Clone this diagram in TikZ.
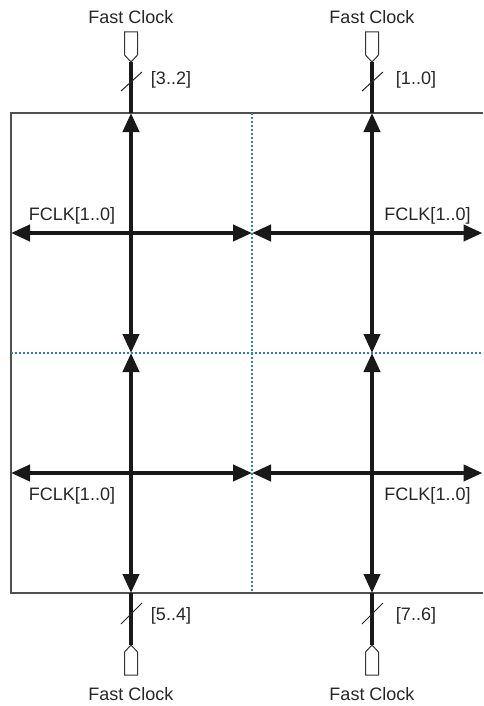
\documentclass[tikz,border=0pt]{standalone}
\usepackage{fontspec}
\setmainfont{Liberation Sans}
\usetikzlibrary{arrows.meta}
\definecolor{boxgray}{HTML}{505050}
\definecolor{dotblue}{HTML}{2F80B8}
\begin{document}
\begin{tikzpicture}[x=1pt,y=-1pt,
  lbl/.style={font=\fontsize{18}{20}\selectfont, text=black!85, inner sep=0pt, anchor=base},
  wire/.style={line width=4pt, black!90},
  biarrow/.style={wire, {Triangle[length=19pt,width=16pt]}-{Triangle[length=19pt,width=16pt]}},
  pinshape/.style={draw=black!80, line width=1pt, fill=white, line join=miter},
  slashmark/.style={line width=1pt, black!85},
  border/.style={line width=1.5pt, boxgray},
  gridline/.style={dotblue, line width=1.2pt, dash pattern=on 2pt off 2pt}]
\useasboundingbox (0,0) rectangle (483,706);

% border and quadrant grid
\draw[border] (483,113) -- (11,113) -- (11,593) -- (483,593);
\draw[gridline] (252,113) -- (252,593);
\draw[gridline] (11,353) -- (483,353);

% coordinates
\foreach \n/\x in {L/131, R/372} {
  \coordinate (top\n) at (\x,113);
  \coordinate (mid\n) at (\x,353);
  \coordinate (bot\n) at (\x,593);
  \coordinate (pinT\n) at (\x,62);
  \coordinate (pinB\n) at (\x,645);
}
\foreach \n/\y in {A/233, B/473} {
  \coordinate (west\n) at (11,\y);
  \coordinate (cen\n) at (252,\y);
  \coordinate (east\n) at (482.5,\y);
}

% pins, wires, buses
\foreach \n/\x in {L/131, R/372} {
  \draw[pinshape] (\x-6.5,32) -- (\x+6.5,32) -- (\x+6.5,55) -- (pinT\n) -- (\x-6.5,55) -- cycle;
  \draw[pinshape] (\x-6.5,675) -- (\x+6.5,675) -- (\x+6.5,652) -- (pinB\n) -- (\x-6.5,652) -- cycle;
  \draw[wire] (pinT\n) -- (top\n);
  \draw[wire] (bot\n) -- (pinB\n);
  \draw[biarrow] (top\n) -- (mid\n);
  \draw[biarrow] (mid\n) -- (bot\n);
  \draw[slashmark] (\x-10,91) -- (\x+11,72);
  \draw[slashmark] (\x-10,624) -- (\x+11,603);
}
\foreach \n in {A, B} {
  \draw[biarrow] (west\n) -- (cen\n);
  \draw[biarrow] (cen\n) -- (east\n);
}

% labels
\node[lbl] (fcTL) at (131,24) {Fast Clock};
\node[lbl] (fcTR) at (372,24) {Fast Clock};
\node[lbl] (fcBL) at (131,700) {Fast Clock};
\node[lbl] (fcBR) at (372,700) {Fast Clock};
\node[lbl] (bTL) at (171,85) {[3..2]};
\node[lbl] (bTR) at (416,85) {[1..0]};
\node[lbl] (bBL) at (171,620) {[5..4]};
\node[lbl] (bBR) at (416,620) {[7..6]};
\node[lbl] (fTL) at (72,220) {FCLK[1..0]};
\node[lbl] (fTR) at (427.5,220) {FCLK[1..0]};
\node[lbl] (fBL) at (72,500) {FCLK[1..0]};
\node[lbl] (fBR) at (427.5,500) {FCLK[1..0]};
\end{tikzpicture}
\end{document}
